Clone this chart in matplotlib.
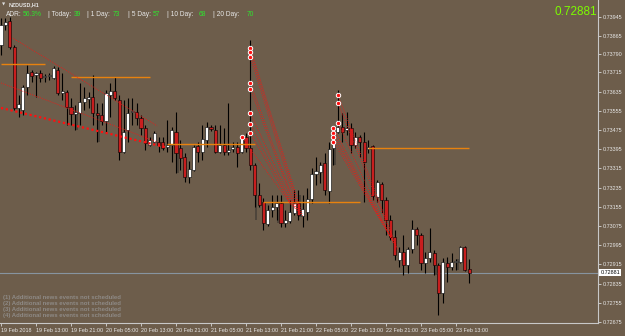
import matplotlib.pyplot as plt
import numpy as np

# NZDUSD H1 candles, 19 Feb 05:00 .. 23 Feb 16:00
opens = [0.73830, 0.73913, 0.73930, 0.73821, 0.73567, 0.73558, 0.73654, 0.73717, 0.73704, 0.73713,
         0.73696, 0.73700, 0.73692, 0.73725, 0.73629, 0.73634, 0.73571, 0.73542, 0.73546, 0.73592,
         0.73604, 0.73613, 0.73546, 0.73538, 0.73513, 0.73621, 0.73638, 0.73600, 0.73383, 0.73475,
         0.73550, 0.73550, 0.73525, 0.73483, 0.73413, 0.73425, 0.73425, 0.73425, 0.73404, 0.73413,
         0.73467, 0.73400, 0.73363, 0.73279, 0.73308, 0.73408, 0.73383, 0.73434, 0.73488, 0.73475,
         0.73383, 0.73413, 0.73383, 0.73396, 0.73404, 0.73383, 0.73446, 0.73400, 0.73329, 0.73204,
         0.73175, 0.73084, 0.73142, 0.73155, 0.73171, 0.73088, 0.73096, 0.73129, 0.73171, 0.73117,
         0.73134, 0.73188, 0.73292, 0.73300, 0.73338, 0.73221, 0.73400, 0.73467, 0.73488, 0.73475,
         0.73483, 0.73413, 0.73446, 0.73425, 0.73396, 0.73408, 0.73196, 0.73250, 0.73184, 0.73100,
         0.73029, 0.72934, 0.72967, 0.72913, 0.72979, 0.73063, 0.73038, 0.72921, 0.72942, 0.72963,
         0.72913, 0.72796, 0.72921, 0.72904, 0.72925, 0.72925, 0.72988, 0.72896]
highs = [0.73942, 0.73942, 0.73946, 0.73830, 0.73621, 0.73663, 0.73746, 0.73725, 0.73717, 0.73725,
         0.73709, 0.73713, 0.73742, 0.73738, 0.73713, 0.73642, 0.73609, 0.73579, 0.73671, 0.73654,
         0.73634, 0.73704, 0.73588, 0.73588, 0.73642, 0.73671, 0.73696, 0.73621, 0.73600, 0.73609,
         0.73609, 0.73588, 0.73538, 0.73496, 0.73446, 0.73471, 0.73446, 0.73446, 0.73517, 0.73488,
         0.73550, 0.73434, 0.73379, 0.73346, 0.73413, 0.73425, 0.73496, 0.73508, 0.73496, 0.73496,
         0.73496, 0.73483, 0.73588, 0.73425, 0.73425, 0.73454, 0.73463, 0.73850, 0.73338, 0.73254,
         0.73192, 0.73163, 0.73204, 0.73204, 0.73204, 0.73142, 0.73184, 0.73225, 0.73225, 0.73204,
         0.73234, 0.73317, 0.73363, 0.73342, 0.73379, 0.73425, 0.73488, 0.73642, 0.73546, 0.73550,
         0.73504, 0.73467, 0.73454, 0.73467, 0.73434, 0.73413, 0.73267, 0.73258, 0.73196, 0.73121,
         0.73059, 0.72988, 0.73038, 0.72988, 0.73100, 0.73071, 0.73046, 0.72967, 0.73067, 0.72975,
         0.72921, 0.72942, 0.72946, 0.72963, 0.72938, 0.72992, 0.72992, 0.72938]
lows = [0.73788, 0.73892, 0.73813, 0.73558, 0.73529, 0.73538, 0.73621, 0.73675, 0.73613, 0.73675,
        0.73675, 0.73684, 0.73688, 0.73621, 0.73600, 0.73496, 0.73496, 0.73475, 0.73496, 0.73558,
        0.73567, 0.73496, 0.73425, 0.73496, 0.73463, 0.73529, 0.73600, 0.73350, 0.73379, 0.73425,
        0.73496, 0.73496, 0.73454, 0.73392, 0.73408, 0.73421, 0.73383, 0.73392, 0.73383, 0.73342,
        0.73296, 0.73308, 0.73258, 0.73254, 0.73304, 0.73342, 0.73350, 0.73404, 0.73471, 0.73379,
        0.73379, 0.73371, 0.73371, 0.73383, 0.73321, 0.73379, 0.73383, 0.73308, 0.73155, 0.73155,
        0.73059, 0.73075, 0.73113, 0.73100, 0.73071, 0.73071, 0.73088, 0.73121, 0.73100, 0.73071,
        0.73100, 0.73171, 0.73246, 0.73254, 0.73204, 0.73171, 0.73329, 0.73463, 0.73425, 0.73454,
        0.73379, 0.73400, 0.73363, 0.73175, 0.73379, 0.73184, 0.73175, 0.73129, 0.73038, 0.73017,
        0.72934, 0.72904, 0.72871, 0.72879, 0.72963, 0.72996, 0.72892, 0.72879, 0.72925, 0.72871,
        0.72704, 0.72754, 0.72842, 0.72892, 0.72892, 0.72921, 0.72888, 0.72838]
closes = [0.73913, 0.73925, 0.73821, 0.73567, 0.73583, 0.73654, 0.73713, 0.73700, 0.73713, 0.73692,
          0.73700, 0.73704, 0.73734, 0.73629, 0.73638, 0.73571, 0.73542, 0.73550, 0.73592, 0.73609,
          0.73613, 0.73546, 0.73538, 0.73513, 0.73629, 0.73638, 0.73609, 0.73383, 0.73467, 0.73546,
          0.73554, 0.73525, 0.73483, 0.73421, 0.73434, 0.73463, 0.73413, 0.73400, 0.73413, 0.73475,
          0.73379, 0.73358, 0.73279, 0.73313, 0.73404, 0.73383, 0.73438, 0.73488, 0.73479, 0.73383,
          0.73413, 0.73383, 0.73392, 0.73404, 0.73379, 0.73446, 0.73400, 0.73329, 0.73204, 0.73163,
          0.73088, 0.73142, 0.73155, 0.73171, 0.73088, 0.73100, 0.73134, 0.73171, 0.73121, 0.73146,
          0.73188, 0.73292, 0.73304, 0.73329, 0.73225, 0.73396, 0.73467, 0.73488, 0.73467, 0.73483,
          0.73413, 0.73446, 0.73425, 0.73342, 0.73404, 0.73200, 0.73258, 0.73184, 0.73100, 0.73029,
          0.72954, 0.72967, 0.72913, 0.72979, 0.73063, 0.73038, 0.72921, 0.72942, 0.72967, 0.72913,
          0.72796, 0.72925, 0.72904, 0.72925, 0.72929, 0.72988, 0.72892, 0.72881]

time_labels = ['19 Feb 2018', '19 Feb 13:00', '19 Feb 21:00', '20 Feb 05:00', '20 Feb 13:00',
               '20 Feb 21:00', '21 Feb 05:00', '21 Feb 13:00', '21 Feb 21:00', '22 Feb 05:00',
               '22 Feb 13:00', '22 Feb 21:00', '23 Feb 05:00', '23 Feb 13:00']
price_ticks = [0.73945, 0.73865, 0.73790, 0.73715, 0.73635, 0.73555, 0.73475, 0.73395, 0.73315,
               0.73235, 0.73155, 0.73075, 0.72995, 0.72915, 0.72835, 0.72755, 0.72675]
last_price = 0.72881

# support / resistance segments: (bar from, bar to, price)
levels = [(0, 10, 0.73748), (16, 34, 0.73694), (38, 58, 0.73415), (60, 82, 0.73174), (84, 107, 0.73399)]

# dark shadow bars seen next to some candles: (bar, top, bottom)
shadows = [(17, 0.73546, 0.73475), (22, 0.73538, 0.73425), (40, 0.73379, 0.73296),
           (58, 0.73204, 0.73100), (63, 0.73142, 0.73088), (68, 0.73204, 0.73113),
           (76, 0.73400, 0.73329), (99, 0.72963, 0.72871), (104, 0.72938, 0.72892)]

# trend lines on the left: (bar0, price0, bar1, price1)
trend_thin = [(0.0, 0.73671, 35.7, 0.73425), (2.7, 0.73858, 35.7, 0.73492)]
trend_thick = (0.0, 0.73567, 37.5, 0.73404)

# fan lines from the two spikes
fan1_start = [(57, 0.73817), (57, 0.73800), (57, 0.73779), (57, 0.73671), (57, 0.73646),
              (57, 0.73546), (57, 0.73500), (57, 0.73463), (55, 0.73446)]
fan1_end = [(69.0, 0.73113), (68.6, 0.73121), (68.1, 0.73129), (67.7, 0.73138), (67.4, 0.73142),
            (67.2, 0.73146), (66.7, 0.73155), (66.3, 0.73163), (66.0, 0.73171)]
fan2_start = [(77, 0.73621), (77, 0.73588), (77, 0.73504), (76, 0.73483), (76, 0.73463),
              (76, 0.73446), (76, 0.73425)]
fan2_end = [(90.7, 0.72975), (90.3, 0.72988), (89.8, 0.73000), (89.6, 0.73009), (89.4, 0.73017),
            (89.1, 0.73025), (88.9, 0.73034)]

adr_parts = [('ADR:', '56.3%'), ('| Today:', '39'), ('| 1 Day:', '73'), ('| 5 Day:', '57'),
             ('| 10 Day:', '68'), ('| 20 Day:', '70')]
news = ['(1) Additional news events not scheduled', '(2) Additional news events not scheduled',
        '(3) Additional news events not scheduled', '(4) Additional news events not scheduled']

BG = '#6D5D4B'
BULL = '#FFFFFF'
BEAR = '#C81E1E'
W, H = 625, 336

plt.rcParams['font.family'] = ['Liberation Sans', 'DejaVu Sans']

fig = plt.figure(figsize=(W / 100, H / 100), dpi=100, facecolor=BG)
ax = fig.add_axes([0, 13 / H, 598 / W, 323 / H])
ax.set_facecolor(BG)

n = len(opens)
x = np.arange(n)
o = np.array(opens)
c = np.array(closes)

# shadows behind, then wicks, then bodies
for b, top, bot in shadows:
    ax.bar(b + 0.35, top - bot, bottom=bot, width=0.55, color='#4E453B', lw=0, zorder=1.5)
ax.vlines(x, lows, highs, color='black', lw=0.8, zorder=2)
body_lo = np.minimum(o, c)
body_h = np.maximum(np.abs(c - o), 0.00002)
cols = [BULL if cc >= oo else BEAR for oo, cc in zip(o, c)]
ax.bar(x, body_h, bottom=body_lo, width=0.7, color=cols, edgecolor='black', lw=0.4, zorder=3)

for b0, b1, p in levels:
    ax.hlines(p, b0, b1, color='#E8820E', lw=1.0, zorder=4)

for b0, p0, b1, p1 in trend_thin:
    ax.plot([b0, b1], [p0, p1], color='#FF1010', lw=0.6, ls=(0, (1, 1.5)), zorder=4)
ax.plot([trend_thick[0], trend_thick[2]], [trend_thick[1], trend_thick[3]],
        color='#FF1010', lw=1.6, ls=(0, (1, 1.2)), zorder=4)

for starts, ends in [(fan1_start, fan1_end), (fan2_start, fan2_end)]:
    for (b0, p0), (b1, p1) in zip(starts, ends):
        ax.plot([b0, b1], [p0, p1], color='#FF1010', lw=0.6, ls=(0, (1, 1.5)), zorder=4)
    ax.scatter([s[0] for s in starts], [s[1] for s in starts], s=10, color='#FF1010',
               edgecolor='white', linewidth=0.7, zorder=5)

ax.axhline(last_price, color='#8794A0', lw=0.8, zorder=1)

ax.set_xlim(-0.23, 136.46)
ax.set_ylim(0.726708, 0.740167)

ax.yaxis.tick_right()
ax.set_yticks(price_ticks)
ax.set_yticklabels([f'{p:.5f}' for p in price_ticks])
ax.set_xticks(np.arange(0, 8 * len(time_labels), 8))
ax.set_xticklabels(time_labels, ha='left')
ax.tick_params(axis='both', colors='#D8D8D8', labelcolor='#E8E8E8', labelsize=3.9,
               length=2.5, width=0.6, pad=1.2)
for s in ['top', 'left']:
    ax.spines[s].set_visible(False)
for s in ['right', 'bottom']:
    ax.spines[s].set_color('#C8C8C8')
    ax.spines[s].set_linewidth(0.8)

ax.text(1.004, last_price, f'{last_price:.5f}', transform=ax.get_yaxis_transform(),
        ha='left', va='center', fontsize=3.9, color='black', clip_on=False,
        bbox=dict(fc='white', ec='none', pad=0.9))

# header texts, positioned in figure pixels
fig.text(2 / W, 1 - 5 / H, '\u25bc', fontsize=3, color='#E0E0E0', va='center', family='DejaVu Sans')
fig.text(9 / W, 1 - 5 / H, 'NZDUSD,H1', fontsize=3.8, color='#E8E8E8', weight='bold', va='center')
lab_x = [6, 48, 87, 128, 167, 213]
val_x = [23, 74, 113, 153, 199, 247]
for (lab, val), lx, vx in zip(adr_parts, lab_x, val_x):
    fig.text(lx / W, 1 - 14 / H, lab, fontsize=4.8, color='#E6E6E6', va='center')
    fig.text(vx / W, 1 - 14 / H, val, fontsize=4.8, color='#2EE62E', va='center')
fig.text(597 / W, 1 - 12 / H, f'{last_price:.5f}', fontsize=8.5, color='#7CFC00',
         ha='right', va='center')

for i, line in enumerate(news):
    fig.text(3 / W, 1 - (297 + 6.3 * i) / H, line, fontsize=4.3, color='#8E8A86',
             weight='bold', va='center')

fig.savefig('out.png', dpi=100, facecolor=BG)
